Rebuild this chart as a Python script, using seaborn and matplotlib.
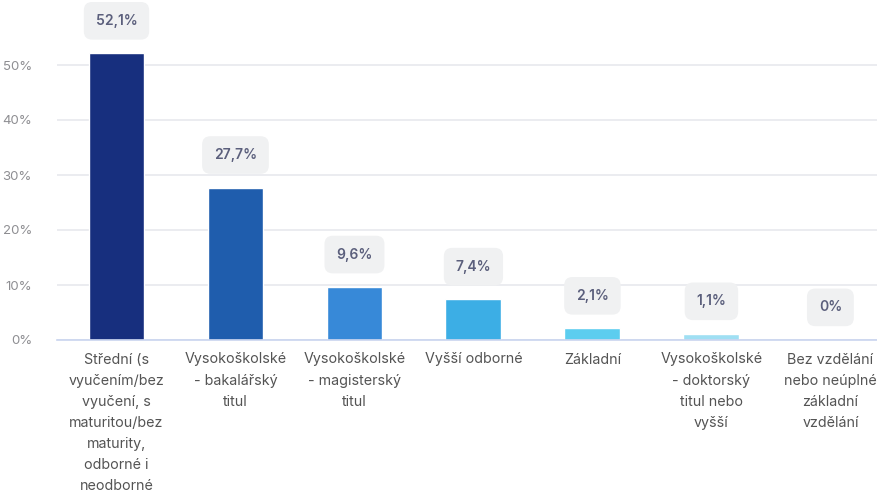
import numpy as np
import pandas as pd
import matplotlib.pyplot as plt
import seaborn as sns

categories = [
    "Střední (s\nvyučením/bez\nvyučení, s\nmaturitou/bez\nmaturity,\nodborné i\nneodborné",
    "Vysokoškolské\n- bakalářský\ntitul",
    "Vysokoškolské\n- magisterský\ntitul",
    "Vyšší odborné",
    "Základní",
    "Vysokoškolské\n- doktorský\ntitul nebo\nvyšší",
    "Bez vzdělání\nnebo neúplné\nzákladní\nvzdělání",
]
values = [52.1, 27.7, 9.6, 7.4, 2.1, 1.1, 0.0]
labels = ["52,1%", "27,7%", "9,6%", "7,4%", "2,1%", "1,1%", "0%"]
colors = ["#172f7e", "#1f5dad", "#3789d8", "#3caee5", "#5ccdef", "#9fdff3", "#c9eef9"]

sns.set_style("white")
plt.rcParams["font.family"] = ["Inter", "DejaVu Sans"]

df = pd.DataFrame({"cat": categories, "val": values})

fig = plt.figure(figsize=(8.78, 5.03), dpi=100)
ax = fig.add_axes([57 / 878, 1 - 340 / 503, (878 - 57) / 878, 340 / 503])

sns.barplot(data=df, x="cat", y="val", hue="cat", palette=colors, saturation=1,
            width=0.47, legend=False, ax=ax, zorder=3)

ax.set_ylim(0, 340 / 5.5)
ax.set_xlim(-0.5, 6.4)
ax.set_yticks([0, 10, 20, 30, 40, 50])
ax.set_yticklabels([f"{t}%" for t in [0, 10, 20, 30, 40, 50]])
ax.yaxis.grid(True, color="#e8e9ee", linewidth=1.2, zorder=0)
ax.set_axisbelow(True)
for s in ["top", "right", "left"]:
    ax.spines[s].set_visible(False)
ax.spines["bottom"].set_color("#c9d4ef")
ax.spines["bottom"].set_linewidth(1.2)
ax.spines["bottom"].set_zorder(4)
ax.set_xlabel("")
ax.set_ylabel("")
ax.tick_params(axis="y", length=0, pad=18, labelsize=9.5, labelcolor="#8e8e92")
ax.tick_params(axis="x", length=0, pad=9, labelsize=10.3, labelcolor="#545454")
for t in ax.get_xticklabels():
    t.set_linespacing(1.65)
    t.set_verticalalignment("top")

# value labels in rounded gray boxes
for i, (v, lab) in enumerate(zip(values, labels)):
    ax.annotate(lab, xy=(i, v), xytext=(0, 23.5), textcoords="offset points",
                ha="center", va="center", fontsize=10, fontweight="semibold",
                color="#5b5f7c", clip_on=False,
                bbox=dict(boxstyle="round,pad=0.85,rounding_size=0.6",
                          fc="#f0f1f2", ec="none"))

fig.savefig("out.png", dpi=100)
